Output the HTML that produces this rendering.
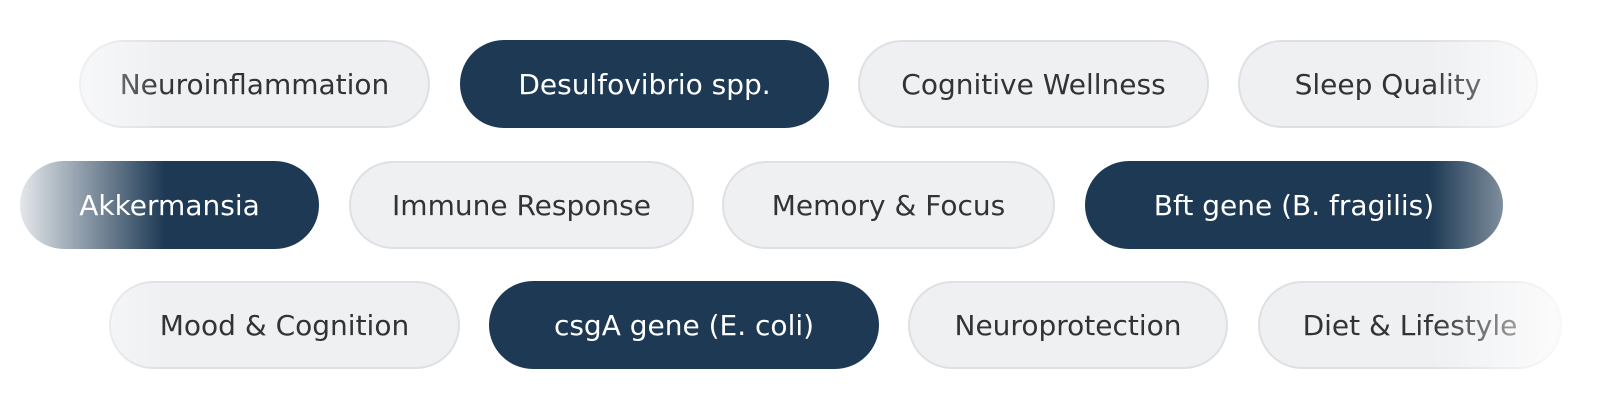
<!DOCTYPE html>
<html><head><style>
html,body{margin:0;padding:0;background:#fff;}
#w{position:relative;width:1600px;height:400px;overflow:hidden;
-webkit-mask-image:linear-gradient(to right,transparent 0,#000 165px,#000 1430px,transparent 1600px);
mask-image:linear-gradient(to right,transparent 0,#000 165px,#000 1430px,transparent 1600px);}
.p{position:absolute;box-sizing:border-box;border-radius:44px;display:flex;align-items:center;justify-content:center;
font-family:"DejaVu Sans","Liberation Sans",sans-serif;font-size:28px;white-space:nowrap;}
.l{background:#eff0f2;border:2px solid #dfe0e4;color:#333;}
.d{background:#1d3954;color:#fff;}
</style></head><body><div id="w">
<div class="p l" style="left:79px;top:40px;width:351px;height:88px">Neuroinflammation</div>
<div class="p d" style="left:460px;top:40px;width:369px;height:88px">Desulfovibrio spp.</div>
<div class="p l" style="left:858px;top:40px;width:351px;height:88px">Cognitive Wellness</div>
<div class="p l" style="left:1238px;top:40px;width:300px;height:88px">Sleep Quality</div>
<div class="p d" style="left:20px;top:161px;width:299px;height:88px">Akkermansia</div>
<div class="p l" style="left:349px;top:161px;width:345px;height:88px">Immune Response</div>
<div class="p l" style="left:722px;top:161px;width:333px;height:88px">Memory &amp; Focus</div>
<div class="p d" style="left:1085px;top:161px;width:418px;height:88px">Bft gene (B. fragilis)</div>
<div class="p l" style="left:109px;top:281px;width:351px;height:88px">Mood &amp; Cognition</div>
<div class="p d" style="left:489px;top:281px;width:390px;height:88px">csgA gene (E. coli)</div>
<div class="p l" style="left:908px;top:281px;width:320px;height:88px">Neuroprotection</div>
<div class="p l" style="left:1258px;top:281px;width:304px;height:88px">Diet &amp; Lifestyle</div>
</div></body></html>
